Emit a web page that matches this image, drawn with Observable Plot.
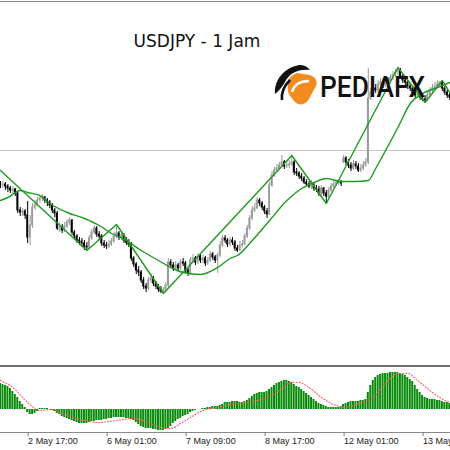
<!DOCTYPE html>
<html><head><meta charset="utf-8">
<script src="https://cdn.jsdelivr.net/npm/d3@7"></script>
<script src="https://cdn.jsdelivr.net/npm/@observablehq/plot@0.6"></script>
<style>
html,body{margin:0;padding:0;background:#fff;}
#wrap{position:relative;width:450px;height:450px;overflow:hidden;background:#fff;}
#wrap > *{position:absolute;left:0;}
</style></head><body>
<div id="wrap">
  <div id="main" style="top:0"></div>
  <div id="osc" style="top:366px"></div>
  <div style="top:1px;width:450px;height:1px;background:#8a8a8a"></div>
  <div style="top:365px;width:450px;height:2px;background:#6f6f6f"></div>
  <svg id="over" width="450" height="450" style="top:0;pointer-events:none">
    <text x="197" y="47" text-anchor="middle" font-family="DejaVu Sans" font-size="17" fill="#111">USDJPY - 1 Jam</text>
    <path d="M288,85 C287,79 292,74 298,73 L309,75 C315,76 318,81 316,86 L309,99 C306,105 299,106 295,102 L290,96 C288,93 287,89 288,85 Z" fill="#f28c1e"/>
    <path d="M292,92 C294,85 300,81 309,81" stroke="#fff" stroke-width="2.4" fill="none"/>
    <path d="M275,94 C274,80 284,68 299,65 C303,65 307,66 310,70 C297,69 289,74 285,82 C282,87 279,91 275,94 Z" fill="#111"/>
    <path d="M282,100 C281,92 284,86 290,80" stroke="#111" stroke-width="2.6" fill="none"/>
    <text x="320" y="97" font-family="Roboto" font-weight="500" font-size="30" fill="#111" textLength="105" lengthAdjust="spacingAndGlyphs">PEDIAFX</text>
  </svg>
</div>
<script>
// ---- data (USDJPY H1) ----
const tickIdx = [12, 44, 76, 108, 140, 172];
const tickLabels = ["2 May 17:00", "6 May 01:00", "7 May 09:00", "8 May 17:00", "12 May 01:00", "13 May 09:00"];

const openP = [
145.425,145.375,145.4,145.35,145.3,145.25,145.275,145.175,144.75,144.7,
144.725,144.625,144.075,144.375,144.825,144.875,145,145.05,145.075,145,
144.95,144.875,144.75,144.675,144.3,144.325,144.25,144.35,144.45,144.5,
144.2,144.1,144,143.975,143.925,143.85,143.825,144.05,144.2,144.3,
144.15,144.1,143.925,143.875,143.85,143.9,143.975,144.1,144.175,144.075,
144.125,144,143.95,143.9,143.55,143.4,143.25,143.2,143,142.85,
142.8,143,143.05,142.925,142.85,142.775,142.725,142.75,142.875,143.45,
143.375,143.3,143.375,143.3,143.45,143.425,143.25,143.175,143.5,143.55,
143.45,143.6,143.5,143.55,143.425,143.5,143.65,143.575,143.5,143.625,
143.875,144.05,144,143.9,144,143.95,143.8,143.75,143.875,143.9,
144.1,144.3,144.55,144.75,144.8,145,144.925,144.825,144.725,144.65,
145.375,145.625,145.75,145.8,145.875,145.95,145.85,145.875,145.9,145.95,
145.7,145.675,145.6,145.55,145.45,145.4,145.35,145.375,145.3,145.275,
145.175,145.3,145.175,145.1,145.25,145.35,145.4,145.425,145.45,145.95,
146.05,145.95,145.875,145.8,145.9,145.85,145.75,145.8,145.875,145.95,
147.55,147.7,147.8,147.75,147.9,147.95,147.875,148,147.95,148.05,
148.125,148.2,148.25,148.1,148,147.95,147.85,147.8,147.7,147.625,
147.65,147.575,147.525,147.5,147.625,147.75,147.8,147.85,147.9,147.95,
147.8,147.7,147.625];

const highP = [
145.475,145.475,145.45,145.4,145.35,145.35,145.3,145.225,144.825,144.8,
144.775,144.975,144.625,144.925,145,145.075,145.125,145.15,145.1,145.05,
145,144.925,144.8,144.725,144.45,144.4,144.45,144.525,144.575,144.525,
144.25,144.15,144.075,144.05,144,143.95,144.125,144.275,144.375,144.35,
144.225,144.15,144,143.95,144,144.05,144.2,144.4,144.225,144.2,
144.175,144.075,144.025,143.95,143.6,143.45,143.35,143.25,143.075,142.925,
143.075,143.15,143.1,142.975,142.9,142.85,142.825,142.95,143.55,143.525,
143.45,143.475,143.425,143.525,143.55,143.475,143.3,143.575,143.65,143.6,
143.675,143.65,143.625,143.6,143.575,143.725,143.7,143.625,143.675,143.975,
144.125,144.125,144.05,144.075,144.075,144,143.875,143.975,144,144.175,
144.375,144.625,144.85,144.925,145.075,145.05,144.975,144.875,144.8,145.45,
145.725,145.825,145.9,145.95,146.125,146,145.975,146,146.125,146,
145.8,145.725,145.675,145.6,145.525,145.475,145.5,145.425,145.375,145.35,
145.375,145.325,145.25,145.325,145.425,145.475,145.5,145.525,145.5,146.125,
146.1,146.025,145.95,146,145.975,145.925,145.9,145.975,146.05,148.3,
147.8,147.925,147.9,148,148.05,148.025,148.075,148.075,148.15,148.225,
148.275,148.325,148.3,148.15,148.075,148,147.925,147.85,147.75,147.75,
147.7,147.65,147.625,147.7,147.825,147.9,147.95,148,147.975,148,
147.85,147.775,147.7];

const lowP = [
145.3,145.3,145.25,145.2,145.175,145.175,145.1,144.675,144.6,144.6,
144.525,143.925,143.875,144.3,144.75,144.85,144.925,144.975,144.925,144.85,
144.8,144.675,144.575,144.25,144.2,144.175,144.2,144.3,144.375,144.125,
144.025,143.925,143.875,143.825,143.75,143.75,143.775,144,144.15,144.075,
144,143.85,143.8,143.775,143.8,143.85,143.925,144.05,144,144,
143.925,143.875,143.825,143.475,143.325,143.15,143.1,142.925,142.775,142.7,
142.75,142.925,142.85,142.775,142.7,142.675,142.675,142.7,142.825,143.3,
143.225,143.25,143.225,143.25,143.35,143.175,143.1,143.125,143.45,143.375,
143.4,143.425,143.425,143.35,143.375,143.45,143.5,143.425,143.175,143.575,
143.825,143.925,143.825,143.85,143.875,143.725,143.7,143.725,143.825,143.875,
144.05,144.25,144.5,144.7,144.775,144.85,144.75,144.65,144.55,144.625,
145.325,145.575,145.7,145.75,145.825,145.775,145.8,145.8,145.85,145.625,
145.6,145.525,145.475,145.4,145.35,145.3,145.275,145.225,145.2,145.1,
145.125,145.1,144.925,145.05,145.2,145.3,145.35,145.375,145.35,145.925,
145.875,145.8,145.725,145.75,145.775,145.7,145.7,145.75,145.825,145.9,
147.5,147.625,147.675,147.7,147.825,147.8,147.825,147.875,147.9,148,
148.075,148.125,148.025,147.925,147.875,147.775,147.725,147.625,147.55,147.55,
147.5,147.475,147.45,147.475,147.575,147.7,147.75,147.8,147.825,147.725,
147.625,147.55,147.5];

const closeP = [
145.375,145.4,145.35,145.3,145.25,145.275,145.175,144.75,144.7,144.725,
144.625,144.075,144.375,144.825,144.875,145,145.05,145.075,145,144.95,
144.875,144.75,144.675,144.3,144.325,144.25,144.35,144.45,144.5,144.2,
144.1,144,143.975,143.925,143.85,143.825,144.05,144.2,144.3,144.15,
144.1,143.925,143.875,143.85,143.9,143.975,144.1,144.175,144.075,144.125,
144,143.95,143.9,143.55,143.4,143.25,143.2,143,142.85,142.8,
143,143.05,142.925,142.85,142.775,142.725,142.75,142.875,143.45,143.375,
143.3,143.375,143.3,143.45,143.425,143.25,143.175,143.5,143.55,143.45,
143.6,143.5,143.55,143.425,143.5,143.65,143.575,143.5,143.625,143.875,
144.05,144,143.9,144,143.95,143.8,143.75,143.875,143.9,144.1,
144.3,144.55,144.75,144.8,145,144.925,144.825,144.725,144.65,145.375,
145.625,145.75,145.8,145.875,145.95,145.85,145.875,145.9,145.95,145.7,
145.675,145.6,145.55,145.45,145.4,145.35,145.375,145.3,145.275,145.175,
145.3,145.175,145.1,145.25,145.35,145.4,145.425,145.45,145.425,146.05,
145.95,145.875,145.8,145.9,145.85,145.75,145.8,145.875,145.95,147.55,
147.7,147.8,147.75,147.9,147.95,147.875,148,147.95,148.05,148.125,
148.2,148.25,148.1,148,147.95,147.85,147.8,147.7,147.625,147.65,
147.575,147.525,147.5,147.625,147.75,147.8,147.85,147.9,147.95,147.8,
147.7,147.625,147.575];

// moving average (read at points)
const maIdx  = [0,3,8,11,16,20,27,34,40,45,51,57,64,69,74,81,88,93,96,102,109,116,122,127,132,138,144,149,152,156,161,166,171,177,182];
const maVals = [145,145.075,145.25,145.2,145.125,144.925,144.7,144.55,144.375,144.175,144,143.75,143.5,143.325,143.2,143.15,143.325,143.55,143.625,144,144.5,145,145.3,145.45,145.55,145.475,145.475,145.5,145.8,146.25,146.825,147.425,147.675,147.825,147.95];

// zigzag pivots
const zzIdx  = [0,35,47,66,118,132,161,172,179,182];
const zzVals = [145.75,143.75,144.4,142.675,146.125,144.925,148.325,147.45,148,147.7];

// horizontal level
const levels = [146.25];

// MACD histogram (one per bar)
const macdVals = [
0.26,0.25,0.24,0.23,0.21,0.18,0.15,0.12,0.08,0.05,
0.02,-0.03,-0.05,-0.05,-0.04,-0.02,0.01,0.01,0.01,0.01,
0.00,-0.01,-0.02,-0.04,-0.05,-0.07,-0.08,-0.09,-0.10,-0.11,
-0.12,-0.13,-0.14,-0.14,-0.14,-0.14,-0.13,-0.12,-0.12,-0.11,
-0.11,-0.11,-0.10,-0.10,-0.09,-0.09,-0.08,-0.08,-0.08,-0.08,
-0.08,-0.09,-0.09,-0.10,-0.11,-0.13,-0.15,-0.17,-0.18,-0.19,
-0.19,-0.19,-0.20,-0.20,-0.21,-0.21,-0.21,-0.20,-0.19,-0.17,
-0.14,-0.12,-0.10,-0.09,-0.07,-0.06,-0.05,-0.03,-0.02,-0.01,
0.00,0.00,0.01,0.01,0.02,0.02,0.03,0.03,0.03,0.04,
0.05,0.07,0.07,0.07,0.08,0.08,0.08,0.07,0.07,0.08,
0.09,0.11,0.13,0.15,0.16,0.17,0.17,0.17,0.18,0.20,
0.22,0.24,0.26,0.27,0.28,0.29,0.29,0.28,0.27,0.25,
0.23,0.22,0.20,0.18,0.16,0.14,0.12,0.10,0.08,0.06,
0.05,0.04,0.03,0.02,0.02,0.02,0.02,0.02,0.03,0.05,
0.06,0.07,0.08,0.08,0.08,0.08,0.09,0.09,0.10,0.17,
0.24,0.29,0.32,0.34,0.35,0.36,0.36,0.36,0.37,0.37,
0.37,0.37,0.36,0.35,0.34,0.32,0.30,0.28,0.24,0.20,
0.17,0.14,0.12,0.11,0.10,0.10,0.10,0.09,0.09,0.08,
0.07,0.07,0.06];

// MACD signal line (read at points)
const sigIdx  = [0,5,11,16,20,27,34,40,47,54,60,65,69,73,77,82,88,91,99,107,113,118,121,125,130,136,140,145,151,156,161,165,169,175,180,182];
const sigVals = [0.29,0.22,0.07,-0.01,0.00,-0.06,-0.11,-0.13,-0.11,-0.09,-0.13,-0.18,-0.19,-0.14,-0.08,-0.01,0.02,0.04,0.07,0.11,0.19,0.27,0.27,0.22,0.12,0.04,0.02,0.06,0.12,0.26,0.36,0.36,0.29,0.17,0.09,0.07];

// ---- build ----
const bars = closeP.map((c, i) => ({i, o: openP[i], h: highP[i], l: lowP[i], c}));
const ma = maIdx.map((i, k) => ({i, v: maVals[k]}));
const zz = zzIdx.map((i, k) => ({i, v: zzVals[k]}));
const hist = macdVals.map((v, i) => ({i, v}));
const sig = sigIdx.map((i, k) => ({i, v: sigVals[k]}));
const upCol = "#9a9a9a", dnCol = "#000000", lineCol = "#1f9a1f";
const xDom = [0, 182.3];

const main = Plot.plot({
  width: 450, height: 366, margin: 0,
  style: {background: "transparent"},
  x: {domain: xDom, axis: null, label: null},
  y: {domain: [140.85, 150], axis: null, label: null},
  color: {type: "identity"},
  marks: [
    Plot.ruleY(levels, {stroke: "#c6c6c6", strokeWidth: 1}),
    Plot.ruleX(bars, {x: "i", y1: "l", y2: "h", stroke: d => d.c >= d.o ? upCol : dnCol, strokeWidth: 1}),
    Plot.rect(bars, {x1: d => d.i - 0.38, x2: d => d.i + 0.38, y1: "o", y2: "c",
      fill: d => d.c >= d.o ? upCol : dnCol, insetTop: -0.5, insetBottom: -0.5}),
    Plot.line(ma, {x: "i", y: "v", stroke: lineCol, strokeWidth: 1.4, curve: "monotone-x"}),
    Plot.line(zz, {x: "i", y: "v", stroke: lineCol, strokeWidth: 1.4})
  ]
});
document.getElementById("main").appendChild(main);

const osc = Plot.plot({
  width: 450, height: 84, marginTop: 2, marginBottom: 18, marginLeft: 0, marginRight: 0,
  style: {background: "transparent", fontFamily: "'Liberation Sans', Arial, sans-serif", fontSize: "9px", color: "#222"},
  x: {domain: xDom, label: null},
  y: {domain: [-0.23, 0.41], axis: null, label: null},
  marks: [
    Plot.rect(hist, {x1: d => d.i - 0.4, x2: d => d.i + 0.4, y1: 0, y2: "v", fill: "#078a07"}),
    Plot.line(sig, {x: "i", y: "v", stroke: "#ff5c5c", strokeWidth: 1.1, strokeDasharray: "1,2", curve: "monotone-x"}),
    Plot.ruleY([-0.23], {stroke: "#8a8a8a", strokeWidth: 1}),
    Plot.axisX(tickIdx, {tickFormat: d => tickLabels[tickIdx.indexOf(d)], textAnchor: "start", dx: -2,
      tickSize: 4, tickPadding: 1, stroke: "#777", fill: "#222", fontSize: 9, label: null})
  ]
});
document.getElementById("osc").appendChild(osc);
</script>
</body></html>
